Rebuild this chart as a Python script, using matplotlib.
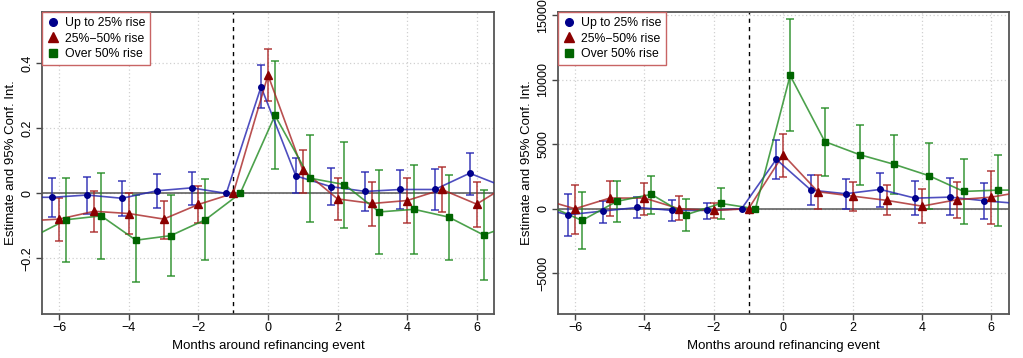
import numpy as np
import matplotlib
matplotlib.use("Agg")
import matplotlib.pyplot as plt

plt.rcParams['font.family'] = ['Liberation Sans', 'DejaVu Sans']

# months around the event (t=-7 and t=7 sit outside the visible window)
months = np.arange(-7, 8)
offsets = {"blue": -0.2, "red": 0.0, "green": 0.2}

# left panel: estimate, lower and upper 95% bounds
left_blue = [-0.012, -0.012, -0.005, -0.015, 0.008, 0.017, 0, 0.328, 0.054, 0.021, 0.006, 0.012, 0.012, 0.062, 0.020]
left_blue_lo = [-0.07, -0.073, -0.062, -0.071, -0.045, -0.036, 0, 0.262, 0.0, -0.037, -0.054, -0.049, -0.05, -0.004, -0.04]
left_blue_hi = [0.05, 0.046, 0.049, 0.039, 0.059, 0.067, 0, 0.396, 0.11, 0.077, 0.066, 0.073, 0.076, 0.125, 0.08]

left_red = [-0.085, -0.079, -0.055, -0.062, -0.079, -0.034, 0, 0.364, 0.072, -0.017, -0.031, -0.022, 0.012, -0.033, 0.033]
left_red_lo = [-0.15, -0.145, -0.12, -0.124, -0.139, -0.092, 0, 0.284, 0.002, -0.081, -0.099, -0.09, -0.058, -0.103, -0.03]
left_red_hi = [-0.02, -0.013, 0.006, 0.002, -0.023, 0.024, 0, 0.443, 0.132, 0.046, 0.036, 0.047, 0.082, 0.036, 0.1]

left_green = [-0.136, -0.081, -0.069, -0.144, -0.13, -0.081, 0, 0.240, 0.047, 0.027, -0.057, -0.049, -0.073, -0.128, -0.09]
left_green_lo = [-0.26, -0.21, -0.202, -0.274, -0.254, -0.205, 0, 0.076, -0.087, -0.106, -0.185, -0.187, -0.204, -0.267, -0.22]
left_green_hi = [-0.01, 0.048, 0.062, -0.005, -0.005, 0.044, 0, 0.408, 0.181, 0.159, 0.072, 0.087, 0.058, 0.011, 0.04]

# right panel
right_blue = [210, -467, -181, 104, -130, -130, 0, 3834, 1446, 1166, 1500, 824, 902, 622, 400]
right_blue_lo = [-1500, -2125, -1114, -726, -985, -778, 0, 2333, 280, 0, 155, -521, -521, -809, -1000]
right_blue_hi = [1800, 1140, 622, 933, 674, 441, 0, 5311, 2589, 2278, 2768, 2123, 2356, 1991, 1800]

right_red = [778, 0, 829, 829, 0, -130, 0, 4199, 1322, 980, 645, 202, 700, 902, 1368]
right_red_lo = [-1000, -1996, -570, -492, -907, -700, 0, 2488, 0, -187, -521, -1089, -754, -1197, -700]
right_red_hi = [2500, 1866, 2125, 1996, 959, 441, 0, 5801, 2644, 2068, 1812, 1500, 2068, 2955, 3400]

right_green = [279, -910, 570, 1115, -467, 415, 0, 10342, 5210, 4199, 3445, 2566, 1345, 1446, 1450]
right_green_lo = [-2000, -3110, -1037, -389, -1711, -778, 0, 6011, 2566, 1812, 1166, 0, -1220, -1322, -1300]
right_green_hi = [2500, 1296, 2125, 2540, 752, 1633, 0, 14697, 7823, 6532, 5754, 5101, 3834, 4199, 4200]

series_labels = ["Up to 25% rise", "25%\u221250% rise", "Over 50% rise"]
xticks = [-6, -4, -2, 0, 2, 4, 6]
xticklabels = ["\u22126", "\u22124", "\u22122", "0", "2", "4", "6"]
left_yticks = [-0.2, 0, 0.2, 0.4]
left_yticklabels = ["\u22120.2", "0", "0.2", "0.4"]
right_yticks = [-5000, 0, 5000, 10000, 15000]
right_yticklabels = ["\u22125000", "0", "5000", "10000", "15000"]

styles = {
    "blue": dict(mc="#00008b", lc="#2222b0", marker="o", ms=4.0),
    "red": dict(mc="#8b0000", lc="#a82424", marker="^", ms=5.4),
    "green": dict(mc="#006400", lc="#1f8a1f", marker="s", ms=4.5),
}


def draw_panel(ax, data, ylim, yticks, yticklabels):
    for key, (est, lo, hi) in data.items():
        st = styles[key]
        x = months + offsets[key]
        est = np.array(est, float)
        lo = np.array(lo, float)
        hi = np.array(hi, float)
        has_ci = months != -1
        ax.errorbar(x[has_ci], est[has_ci],
                    yerr=[est[has_ci] - lo[has_ci], hi[has_ci] - est[has_ci]],
                    fmt="none", ecolor=st["lc"], alpha=0.75, elinewidth=1.3,
                    capsize=2.6, capthick=1.3, zorder=3)
        ax.plot(x, est, color=st["lc"], lw=1.2, alpha=0.8, zorder=4)
        ax.plot(x, est, ls="none", marker=st["marker"], ms=st["ms"],
                color=st["mc"], zorder=5)

    ax.axhline(0, color="#555555", lw=1.1, zorder=2)
    ax.axvline(-1, color="black", lw=1.0, ls=(0, (3, 3)), zorder=2)
    ax.set_xlim(-6.5, 6.5)
    ax.set_ylim(*ylim)
    ax.set_xticks(xticks)
    ax.set_xticklabels(xticklabels, fontsize=9)
    ax.set_yticks(yticks)
    ax.set_yticklabels(yticklabels, fontsize=9, rotation=90, va="center")
    ax.grid(True, color="#d0d0d0", ls=(0, (1, 2)), lw=0.9)
    ax.set_axisbelow(True)
    ax.tick_params(direction="out", length=4, width=1, color="#444444", pad=2)
    for sp in ax.spines.values():
        sp.set_color("#555555")
        sp.set_linewidth(1.3)
    ax.set_xlabel("Months around refinancing event", fontsize=9.5, labelpad=4)
    ax.set_ylabel("Estimate and 95% Conf. Int.", fontsize=9.5, labelpad=3)

    handles = [plt.Line2D([], [], ls="none", marker=styles[k]["marker"],
                          ms=styles[k]["ms"] + 1.5, color=styles[k]["mc"])
               for k in ["blue", "red", "green"]]
    leg = ax.legend(handles, series_labels, loc="upper left", bbox_to_anchor=(0, 1),
                    borderaxespad=0, fancybox=False, framealpha=1, fontsize=8.8,
                    handlelength=1.0, handletextpad=0.5, labelspacing=0.3,
                    borderpad=0.4)
    leg.get_frame().set_edgecolor("#c86464")
    leg.get_frame().set_linewidth(1.0)
    leg.set_zorder(10)


fig = plt.figure(figsize=(10.23, 3.58), dpi=100)
ax1 = fig.add_axes([42 / 1023, 44 / 358, 452 / 1023, 302 / 358])
ax2 = fig.add_axes([557.7 / 1023, 44 / 358, 451 / 1023, 302 / 358])

draw_panel(ax1, {"blue": (left_blue, left_blue_lo, left_blue_hi),
                 "red": (left_red, left_red_lo, left_red_hi),
                 "green": (left_green, left_green_lo, left_green_hi)},
           (-0.371, 0.558), left_yticks, left_yticklabels)
draw_panel(ax2, {"blue": (right_blue, right_blue_lo, right_blue_hi),
                 "red": (right_red, right_red_lo, right_red_hi),
                 "green": (right_green, right_green_lo, right_green_hi)},
           (-8165, 15265), right_yticks, right_yticklabels)

fig.savefig("out.png", dpi=100)
